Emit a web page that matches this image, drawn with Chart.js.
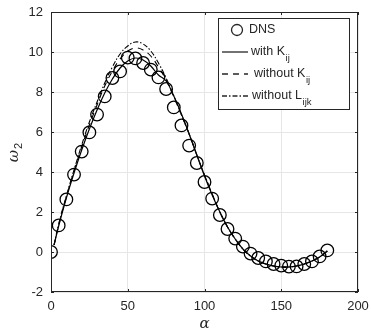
<!DOCTYPE html>
<html lang="en">
<head>
  <meta charset="UTF-8">
  <title>omega2 vs alpha</title>
  <script src="https://cdn.jsdelivr.net/npm/chart.js"></script>
  <style>
    html, body { margin: 0; padding: 0; background: #fff; }
  </style>
</head>
<body>
<canvas id="chart" width="371" height="335"></canvas>
<script>
// DNS samples, every 5 degrees
const dnsAlpha = [0,5,10,15,20,25,30,35,40,45,50,55,60,65,70,75,80,85,90,95,100,105,110,115,120,125,130,135,140,145,150,155,160,165,170,175,180];
const dnsOmega = [0.0,1.33,2.63,3.87,5.02,5.98,6.87,7.78,8.7,9.03,9.72,9.68,9.45,9.12,8.73,8.15,7.23,6.33,5.32,4.45,3.5,2.67,1.85,1.15,0.67,0.27,-0.08,-0.3,-0.47,-0.6,-0.68,-0.73,-0.72,-0.6,-0.47,-0.22,0.08];

// model curves
const lineAlpha = [2,5,10,15,20,25,30,35,40,45,50,55,60,65,70,75,80,85,90,95,100,105,110,115,120,125,130,135,140,145,150,155,160,165,170,175,180];
const withK = [0.35,1.3,2.7,3.95,5.1,6.15,7.1,7.95,8.65,9.2,9.55,9.7,9.6,9.3,8.85,8.55,7.8,6.9,5.9,4.85,3.8,2.85,2.0,1.25,0.65,0.15,-0.2,-0.45,-0.6,-0.7,-0.75,-0.75,-0.7,-0.6,-0.45,-0.25,0.05];
const withoutK = [0.35,1.35,2.75,4.05,5.25,6.35,7.35,8.3,9.05,9.65,10.05,10.2,10.1,9.8,9.25,8.6,7.75,6.85,5.9,4.85,3.85,2.9,2.0,1.25,0.65,0.15,-0.2,-0.45,-0.6,-0.7,-0.75,-0.75,-0.7,-0.6,-0.45,-0.25,0.05];
const withoutL = [0.35,1.4,2.8,4.1,5.35,6.5,7.5,8.45,9.25,9.9,10.3,10.5,10.4,10.05,9.45,8.7,7.8,6.85,5.9,4.85,3.85,2.9,2.0,1.25,0.65,0.15,-0.2,-0.45,-0.6,-0.7,-0.75,-0.75,-0.7,-0.6,-0.45,-0.25,0.05];

const xTicks = [0,50,100,150,200];
const yTicks = [-2,0,2,4,6,8,10,12];

const FONT = '"Liberation Sans", Arial, sans-serif';
const INK = '#262626';

const pts = (xs, ys) => xs.map((x, i) => ({ x, y: ys[i] }));

// frame, inward ticks, axis titles and legend
const decor = {
  id: 'decor',
  afterDraw(chart) {
    const { ctx, chartArea: a, scales: { x, y } } = chart;
    ctx.save();
    ctx.strokeStyle = INK;
    ctx.lineWidth = 1;
    ctx.strokeRect(a.left + 0.5, a.top + 0.5, a.right - a.left - 1, a.bottom - a.top - 1);
    ctx.beginPath();
    xTicks.forEach(v => {
      const px = Math.round(x.getPixelForValue(v)) + 0.5;
      ctx.moveTo(px, a.bottom); ctx.lineTo(px, a.bottom - 3);
      ctx.moveTo(px, a.top); ctx.lineTo(px, a.top + 3);
    });
    yTicks.forEach(v => {
      const py = Math.round(y.getPixelForValue(v)) + 0.5;
      ctx.moveTo(a.left, py); ctx.lineTo(a.left + 3, py);
      ctx.moveTo(a.right, py); ctx.lineTo(a.right - 3, py);
    });
    ctx.stroke();

    // x title
    ctx.fillStyle = INK;
    ctx.font = 'italic 15px "DejaVu Serif", serif';
    ctx.textAlign = 'center';
    ctx.textBaseline = 'middle';
    ctx.fillText('α', (a.left + a.right) / 2, 324);

    // y title
    ctx.save();
    ctx.translate(14, (a.top + a.bottom) / 2);
    ctx.rotate(-Math.PI / 2);
    ctx.font = 'italic 15px "DejaVu Serif", serif';
    ctx.textAlign = 'right';
    ctx.fillText('ω', 2, 0);
    ctx.font = '11px ' + FONT;
    ctx.textAlign = 'left';
    ctx.fillText('2', 3, 5);
    ctx.restore();

    // legend
    const bx = 218, by = 18, bw = 131, bh = 91;
    ctx.fillStyle = '#fff';
    ctx.fillRect(bx, by, bw, bh);
    ctx.strokeStyle = INK;
    ctx.setLineDash([]);
    ctx.strokeRect(bx + 0.5, by + 0.5, bw, bh);
    const rows = [30, 52, 74, 96];
    ctx.lineWidth = 1.3;
    ctx.beginPath(); ctx.arc(237, rows[0], 5.5, 0, Math.PI * 2); ctx.stroke();
    const seg = (yy, dash, x0, x1) => {
      ctx.setLineDash(dash);
      ctx.beginPath(); ctx.moveTo(x0, yy); ctx.lineTo(x1, yy); ctx.stroke();
    };
    seg(rows[1], [], 222, 248);
    seg(rows[2], [6, 5], 222, 248);
    seg(rows[3], [5, 2, 1.5, 2], 222, 248);
    ctx.setLineDash([]);
    ctx.fillStyle = INK;
    ctx.textAlign = 'left';
    ctx.textBaseline = 'middle';
    const label = (tx, yy, main, sub) => {
      ctx.font = '12.5px ' + FONT;
      ctx.fillText(main, tx, yy);
      if (sub) {
        const w = ctx.measureText(main).width;
        ctx.font = '9.5px ' + FONT;
        ctx.fillText(sub, tx + w + 0.5, yy + 6);
      }
    };
    label(249, rows[0], 'DNS');
    label(251, rows[1], 'with K', 'ij');
    label(254, rows[2], 'without K', 'ij');
    label(252, rows[3], 'without L', 'ijk');
    ctx.restore();
  }
};

new Chart(document.getElementById('chart'), {
  type: 'scatter',
  data: {
    datasets: [
      { label: 'without L_ijk', data: pts(lineAlpha, withoutL), showLine: true, borderColor: '#000', borderWidth: 1.1, borderDash: [5, 2, 1.5, 2], pointRadius: 0, tension: 0.4, order: 3 },
      { label: 'without K_ij', data: pts(lineAlpha, withoutK), showLine: true, borderColor: '#000', borderWidth: 1.1, borderDash: [6, 5], pointRadius: 0, tension: 0.4, order: 2 },
      { label: 'with K_ij', data: pts(lineAlpha, withK), showLine: true, borderColor: '#000', borderWidth: 1.2, pointRadius: 0, tension: 0.4, order: 1 },
      { label: 'DNS', data: pts(dnsAlpha, dnsOmega), showLine: false, pointRadius: 6.3, pointBorderWidth: 1.3, pointBorderColor: '#000', pointBackgroundColor: 'rgba(0,0,0,0)', order: 0 }
    ]
  },
  options: {
    responsive: false,
    animation: false,
    layout: { padding: { top: 12, right: 13, left: 0, bottom: 0 } },
    plugins: { legend: { display: false }, tooltip: { enabled: false } },
    scales: {
      x: {
        type: 'linear', min: 0, max: 200,
        afterBuildTicks: s => { s.ticks = xTicks.map(v => ({ value: v })); },
        afterFit: s => { s.height = 43; s.paddingLeft = 0; s.paddingRight = 0; },
        grid: { color: '#e6e6e6', drawTicks: false },
        border: { display: false },
        ticks: { color: INK, font: { family: FONT, size: 13 }, padding: 7, maxRotation: 0 }
      },
      y: {
        type: 'linear', min: -2, max: 12,
        afterBuildTicks: s => { s.ticks = yTicks.map(v => ({ value: v })); },
        afterFit: s => { s.width = 51; s.paddingTop = 0; s.paddingBottom = 0; },
        grid: { color: '#e6e6e6', drawTicks: false },
        border: { display: false },
        ticks: { color: INK, font: { family: FONT, size: 13 }, padding: 8 }
      }
    }
  },
  plugins: [decor]
});
</script>
</body>
</html>
